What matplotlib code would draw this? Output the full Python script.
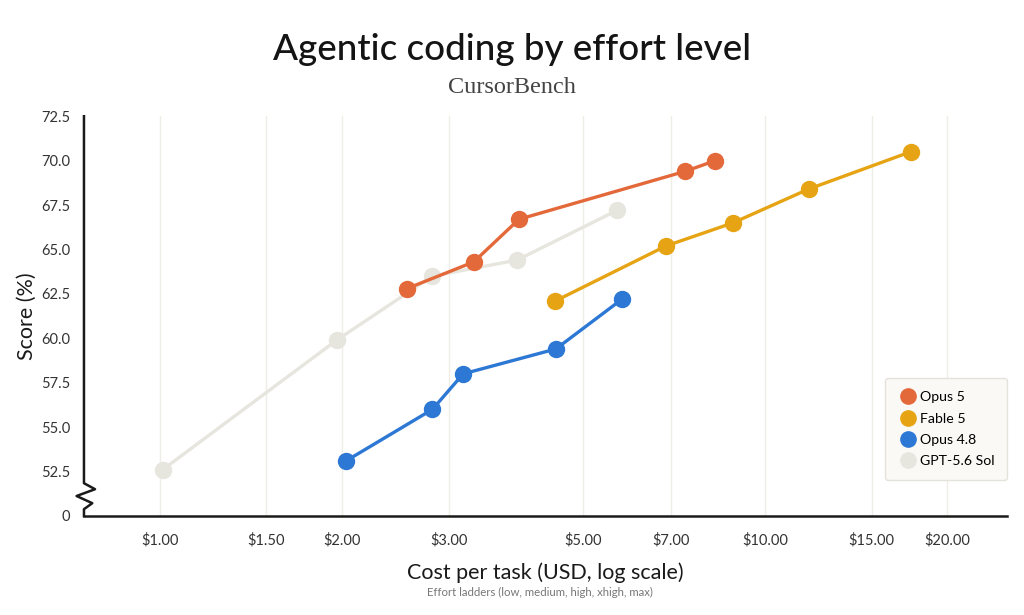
import matplotlib
matplotlib.use("Agg")
import matplotlib.pyplot as plt
from matplotlib.lines import Line2D

plt.rcParams['font.family'] = ['Lato', 'DejaVu Sans']

# data
opus5_cost = [2.56, 3.30, 3.92, 7.38, 8.27]
opus5_score = [62.8, 64.3, 66.7, 69.4, 70.0]

fable5_cost = [4.50, 6.86, 8.85, 11.8, 17.4]
fable5_score = [62.1, 65.2, 66.5, 68.4, 70.5]

opus48_cost = [2.03, 2.82, 3.17, 4.51, 5.80]
opus48_score = [53.1, 56.0, 58.0, 59.4, 62.2]

gpt_cost = [1.01, 1.96, 2.82, 3.89, 5.69]
gpt_score = [52.6, 59.9, 63.5, 64.4, 67.2]

x_ticks = [1, 1.5, 2, 3, 5, 7, 10, 15, 20]
x_labels = ["$1.00", "$1.50", "$2.00", "$3.00", "$5.00", "$7.00", "$10.00", "$15.00", "$20.00"]
y_ticks = [50, 52.5, 55, 57.5, 60, 62.5, 65, 67.5, 70, 72.5]
y_labels = ["0", "52.5", "55.0", "57.5", "60.0", "62.5", "65.0", "67.5", "70.0", "72.5"]

series = [
    ("GPT-5.6 Sol", gpt_cost, gpt_score, "#E6E5DE", 2),
    ("Opus 4.8", opus48_cost, opus48_score, "#2C78D4", 4),
    ("Fable 5", fable5_cost, fable5_score, "#E6A414", 4),
    ("Opus 5", opus5_cost, opus5_score, "#E4693A", 5),
]

fig = plt.figure(figsize=(10.24, 6.15), dpi=100)
ax = fig.add_axes([0.082, 0.161, 0.9014, 0.650])

for name, xs, ys, col, z in series:
    ax.plot(xs, ys, color=col, lw=2.4, marker="o", ms=11.5, zorder=z, solid_capstyle="round")

ax.set_xscale("log")
ax.set_xlim(0.749, 25.1)
ax.set_ylim(50, 72.5)
ax.set_xticks(x_ticks)
ax.set_xticklabels(x_labels)
ax.minorticks_off()
ax.set_yticks(y_ticks)
ax.set_yticklabels(y_labels)
ax.tick_params(axis="both", length=0, labelsize=10.5, colors="#333333")
ax.tick_params(axis="x", pad=12)
ax.tick_params(axis="y", pad=10)

for xt in x_ticks:
    ax.axvline(xt, color="#EEEDE6", lw=1, zorder=0)

for s in ["top", "right", "left"]:
    ax.spines[s].set_visible(False)
ax.spines["bottom"].set_color("#1a1a1a")
ax.spines["bottom"].set_linewidth(1.8)

# left spine with break mark
zx = [0, 0, 0.012, -0.008, 0.009, 0, 0]
zy = [1, 0.082, 0.067, 0.05, 0.032, 0.017, 0]
ax.plot(zx, zy, transform=ax.transAxes, color="#1a1a1a", lw=1.8, clip_on=False, zorder=6)

ax.set_ylabel("Score (%)", fontsize=15.5, color="#1a1a1a", labelpad=3)
ax.set_xlabel("Cost per task (USD, log scale)", fontsize=15.5, color="#1a1a1a", labelpad=11)

fig.text(0.5, 0.92, "Agentic coding by effort level", ha="center", va="center",
         fontsize=26.5, fontweight="medium", color="#141414")
fig.text(0.5, 0.858, "CursorBench", ha="center", va="center", fontsize=17.5,
         family=["Liberation Serif", "DejaVu Serif"], color="#444444")
fig.text(0.527, 0.037, "Effort ladders (low, medium, high, xhigh, max)", ha="center",
         va="center", fontsize=8.2, color="#777777")

handles = [Line2D([], [], ls="none", marker="o", ms=11, color=c) for _, _, _, c, _ in series[::-1]]
names = [n for n, _, _, _, _ in series[::-1]]
leg = ax.legend(handles, names, loc="lower right", bbox_to_anchor=(1.0, 0.09), fontsize=10.2,
                frameon=True, fancybox=True, handletextpad=0.15, labelspacing=0.66,
                borderpad=0.9, handlelength=1.4, borderaxespad=0)
leg.get_frame().set_facecolor("#FAF9F5")
leg.get_frame().set_edgecolor("#E4E2DA")
leg.get_frame().set_alpha(1)

fig.savefig("out.png", dpi=100, facecolor="white")
